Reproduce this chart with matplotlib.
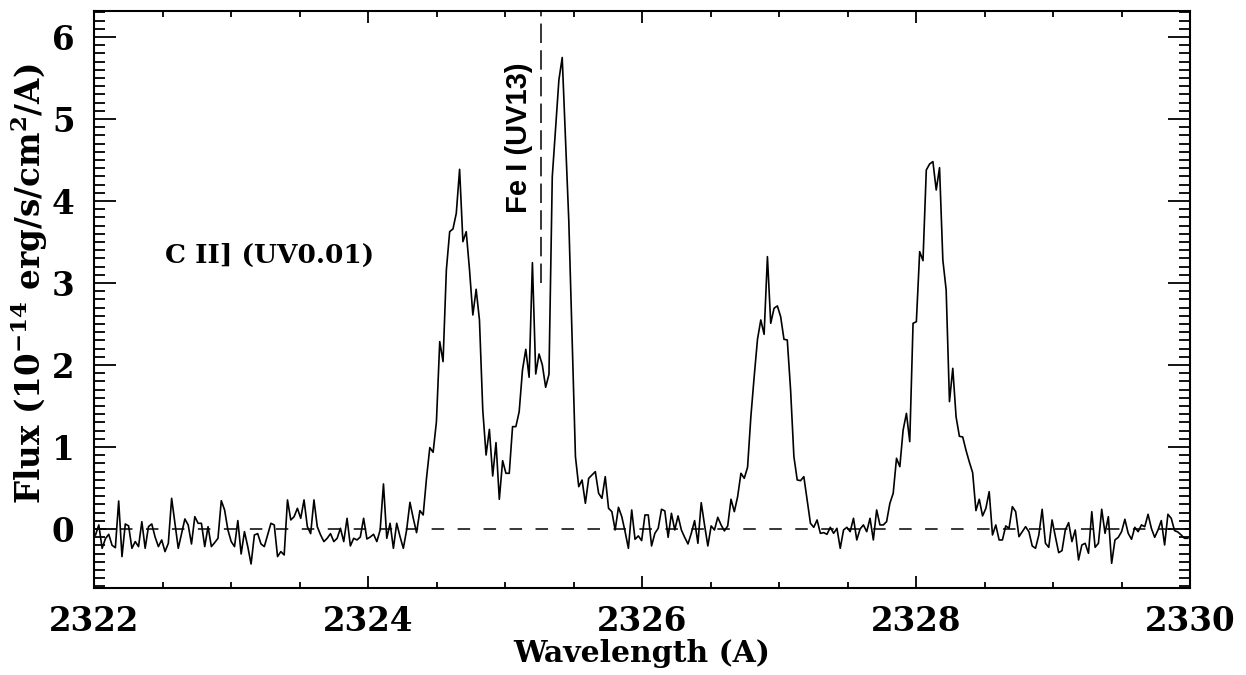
import numpy as np
import matplotlib
matplotlib.use("Agg")
import matplotlib.pyplot as plt
from matplotlib.ticker import MultipleLocator

# ---- data ----
wave_start = 2322.011      # first sample (A)
wave_step = 0.02416        # sampling (A)

flux = [
    -0.073, 0.049, -0.236, -0.118, -0.065, -0.199, -0.228, 0.341, -0.337, 0.061,
    0.037, -0.236, -0.154, -0.215, 0.089, -0.236, 0.028, 0.061, -0.098, -0.215,
    -0.134, -0.276, -0.175, 0.374, 0.069, -0.236, -0.057, 0.122, 0.049, -0.183,
    0.150, 0.069, 0.069, -0.215, 0.028, -0.215, -0.167, -0.114, 0.345, 0.232,
    -0.012, -0.154, -0.215, 0.102, -0.305, -0.033, -0.215, -0.427, -0.073, -0.057,
    -0.183, -0.215, -0.073, 0.069, 0.049, -0.337, -0.276, -0.317, 0.354, 0.110,
    0.150, 0.252, 0.130, 0.354, 0.028, -0.057, 0.354, 0.028, -0.073, -0.154,
    -0.114, -0.057, -0.154, -0.114, 0.008, -0.154, 0.130, -0.207, -0.114, -0.134,
    -0.098, 0.130, -0.122, -0.098, -0.065, -0.154, -0.012, 0.549, -0.114,
    0.069, -0.236, 0.069, -0.093, -0.236, -0.012, 0.325, 0.130, -0.045, 0.224,
    0.171, 0.618, 0.992, 0.935, 1.309, 2.285, 2.041, 3.159, 3.626, 3.659,
    3.850, 4.386, 3.504, 3.626, 3.159, 2.610, 2.923, 2.549, 1.451, 0.902,
    1.215, 0.646, 1.053, 0.362, 0.833, 0.679, 0.679, 1.248, 1.248, 1.431,
    1.939, 2.191, 1.850, 3.248, 1.890, 2.134, 2.000, 1.728, 1.886, 4.296,
    4.886, 5.476, 5.750, 4.740, 3.748, 2.300, 0.882, 0.516, 0.597, 0.313,
    0.618, 0.659, 0.699, 0.435, 0.374, 0.638, 0.252, 0.211,
    -0.012, 0.264, 0.150, -0.033, -0.236, 0.232, -0.126, -0.085, -0.142, 0.171,
    0.171, -0.207, -0.053, 0.008, 0.240, 0.220, -0.102, 0.191, -0.012, 0.159,
    -0.012, -0.102, -0.183, -0.053, 0.102, -0.175, 0.321, 0.049, -0.207, 0.037,
    -0.012, 0.142, 0.049, -0.024, 0.037, 0.362, 0.211, 0.394, 0.679, 0.618,
    0.752, 1.370, 1.858, 2.313, 2.549, 2.374, 3.321, 2.508, 2.691, 2.720,
    2.589, 2.313, 2.305, 1.695, 0.882, 0.598, 0.589, 0.638, 0.354, 0.069,
    0.020, 0.110, -0.053, -0.045, -0.065, 0.020, -0.053, 0.008, -0.236, -0.012,
    0.020, -0.033, 0.130, -0.134, 0.000, 0.049, -0.033, 0.130, -0.134, 0.232,
    0.049, 0.049, 0.089, 0.313, 0.435, 0.862, 0.760, 1.207, 1.410, 1.065,
    2.508, 2.528, 3.382, 3.272, 4.378, 4.451, 4.480, 4.134, 4.406, 3.280,
    2.915, 1.553, 1.959, 1.366, 1.130, 1.122, 0.959, 0.817, 0.687, 0.224,
    0.362, 0.159, 0.252, 0.455, -0.073, 0.049, -0.134, -0.134, 0.037,
    0.008, 0.272, 0.211, -0.094, -0.033, 0.028, -0.033, -0.207, -0.236, -0.073,
    0.240, -0.175, -0.224, 0.110, -0.094, -0.289, -0.264, -0.012, 0.077, -0.154,
    -0.012, -0.378, -0.195, -0.175, -0.297, 0.211, -0.224, -0.175, 0.240, -0.053,
    0.150, -0.419, -0.134, -0.102, -0.033, 0.118, -0.053, -0.126, 0.020, -0.033,
    0.049, 0.028, 0.179, 0.008, -0.102, -0.012, 0.102, -0.195, 0.179, 0.130,
    -0.020, -0.037, -0.073, -0.114, -0.114,
]
wavelength = wave_start + wave_step * np.arange(len(flux))

fe_line_wave = 2325.265
fe_line_top_flux = 3.0
fe_label = "Fe I (UV13)"
c_label = "C II] (UV0.01)"
x_label = "Wavelength (A)"
y_label = r"Flux (10$^{\mathbf{-14}}$ erg/s/cm$^{\mathbf{2}}$/A)"
x_range = (2322, 2330)
y_range = (-0.72, 6.317)

# ---- style ----
plt.rcParams['lines.scale_dashes'] = False
plt.rcParams['mathtext.fontset'] = 'custom'
plt.rcParams['mathtext.rm'] = 'DejaVu Serif:bold'
plt.rcParams['mathtext.bf'] = 'DejaVu Serif:bold'
plt.rcParams['mathtext.default'] = 'bf'

fig = plt.figure(figsize=(12.46, 6.75), dpi=100)
ax = fig.add_axes([94/1246, 1 - 588/675, (1190 - 94)/1246, (588 - 11)/675])

ax.plot(wavelength, flux, color='black', lw=1.2)
ax.axhline(0, color='black', lw=1.1, dashes=(9, 9.7))
ax.plot([fe_line_wave, fe_line_wave], [fe_line_top_flux, y_range[1]],
        color='black', lw=1.1, dashes=(14, 5.2))

ax.set_xlim(*x_range)
ax.set_ylim(*y_range)

ax.xaxis.set_major_locator(MultipleLocator(2))
ax.xaxis.set_minor_locator(MultipleLocator(0.5))
ax.yaxis.set_major_locator(MultipleLocator(1))
ax.yaxis.set_minor_locator(MultipleLocator(0.1))

ax.tick_params(axis='x', which='major', length=8.6, width=1.3, direction='in',
               top=True, bottom=True, pad=12)
ax.tick_params(axis='x', which='minor', length=4.3, width=1.3, direction='in',
               top=True, bottom=True)
ax.tick_params(axis='y', which='major', length=15.8, width=1.3, direction='in',
               left=True, right=True, pad=14)
ax.tick_params(axis='y', which='minor', length=7.9, width=1.3, direction='in',
               left=True, right=True)
for sp in ax.spines.values():
    sp.set_linewidth(1.5)

for lab in ax.get_xticklabels() + ax.get_yticklabels():
    lab.set_fontfamily('DejaVu Serif')
    lab.set_fontweight('bold')
    lab.set_fontsize(23.5)

ax.set_xlabel(x_label, fontfamily='DejaVu Serif', fontweight='bold', fontsize=21.5, labelpad=1)
ax.set_ylabel(y_label, fontfamily='DejaVu Serif', fontweight='bold', fontsize=23.5)
ax.yaxis.set_label_coords(-0.040, 0.527)

ax.text(2322.52, 3.34, c_label, fontfamily='DejaVu Serif', fontweight='bold',
        fontsize=19, ha='left', va='center')
ax.text(2325.10, 4.77, fe_label, fontfamily='Liberation Sans', fontweight='bold',
        fontsize=21, rotation=90, ha='center', va='center')

fig.savefig('out.png', dpi=100)
